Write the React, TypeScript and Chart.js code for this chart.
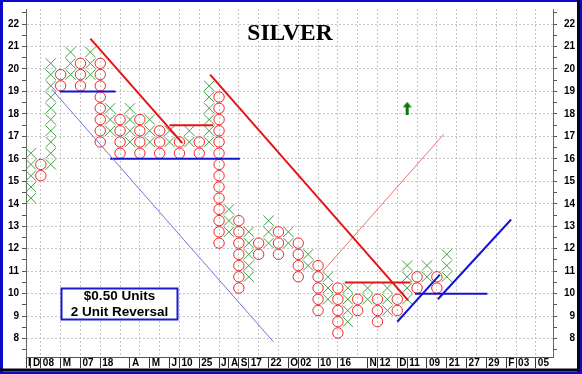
import React, { useEffect, useRef } from 'react';
import { Chart, registerables } from 'chart.js';

Chart.register(...registerables);

// ---- Point & Figure columns (box centres, $0.50 boxes) ----
const columnTypes = 'XOXOXOXOXOXOXOXOXOXOXOXOXOXOXOXOXOXOXOXOXOX'.split('');
const columnLows = [
  14.25, 15.25, 15.75, 19.25, 19.75, 19.25, 19.75, 16.75, 17.25, 16.25,
  16.75, 16.25, 16.75, 16.25, 16.75, 16.25, 16.75, 16.25, 16.75, 12.25,
  12.75, 10.25, 10.75, 11.75, 12.25, 11.75, 12.25, 10.75, 11.25, 9.25,
  9.75, 8.25, 8.75, 9.25, 9.75, 8.75, 9.25, 9.25, 9.75, 10.25,
  10.75, 10.25, 10.75,
];
const columnHighs = [
  16.25, 15.75, 20.25, 19.75, 20.75, 20.25, 20.75, 20.25, 18.25, 17.75,
  18.25, 17.75, 17.75, 17.25, 17.25, 16.75, 17.25, 16.75, 19.25, 18.75,
  13.75, 13.25, 12.75, 12.25, 13.25, 12.75, 12.75, 12.25, 11.75, 11.25,
  10.75, 10.25, 10.25, 9.75, 10.25, 9.75, 10.25, 9.75, 11.25, 10.75,
  11.25, 10.75, 11.75,
];

// ---- axis labels ----
const xTickCols = [-0.5, 0, 1, 3, 5, 7, 10, 12, 14, 15, 17, 19, 20, 21, 22, 24, 26, 27, 29, 31, 34, 35, 37, 38, 40, 42, 44, 46, 48, 49, 51];
const xTickLabels = ['I', 'D', '08', 'M', '07', '18', 'A', 'M', 'J', '10', '25', 'J', 'A', 'S', '17', '22', 'O', '02', '10', '16', 'N', '12', 'D', '11', '09', '21', '27', '29', 'F', '03', '05'];
const yTickValues = [8, 9, 10, 11, 12, 13, 14, 15, 16, 17, 18, 19, 20, 21, 22];
const gridCols = [1, 3, 5, 7, 9, 11, 13, 15, 17, 19, 21, 23, 25, 27, 29, 31, 33, 35, 37, 39, 41, 43, 45, 47, 49, 51];

// ---- trend lines (column, price) ----
const supportThin = [[2.1, 19.1], [24.5, 7.85]];
const resistance1 = [[6, 21.35], [15.3, 16.7]];
const resistance2 = [[18.1, 19.75], [38.1, 9.7]];
const redThinUp = [[29.5, 11], [41.7, 17.1]];
const blueUp1 = [[37, 8.75], [41.3, 10.85]];
const blueUp2 = [[41.1, 9.75], [48.5, 13.3]];
const redLevel1 = [[14, 17.5], [18.4, 17.5]];
const redLevel2 = [[31.7, 10.5], [38.35, 10.5]];
const blueLevel1 = [[2.9, 19], [8.55, 19]];
const blueLevel2 = [[8, 16], [21.1, 16]];
const blueLevel3 = [[38.8, 10], [46.1, 10]];
const buySignal = [[38, 18.25]];

const X_MIN = -0.5;
const X_MAX = 52.73;
const Y_MIN = 7.18;
const Y_MAX = 22.67;

export default function App() {
  const ref = useRef<HTMLCanvasElement>(null);

  useEffect(() => {
    document.body.style.margin = '0';
    const canvas = ref.current;
    if (!canvas) return;

    const xs: { x: number; y: number }[] = [];
    const os: { x: number; y: number }[] = [];
    columnTypes.forEach((t, i) => {
      for (let v = columnLows[i]; v <= columnHighs[i] + 1e-9; v += 0.5) {
        (t === 'X' ? xs : os).push({ x: i, y: v });
      }
    });

    // arrow marker
    const arrow = document.createElement('canvas');
    arrow.width = 9;
    arrow.height = 13;
    const actx = arrow.getContext('2d')!;
    actx.fillStyle = '#0a7a0a';
    actx.beginPath();
    actx.moveTo(4.5, 0);
    actx.lineTo(9, 5.5);
    actx.lineTo(0, 5.5);
    actx.closePath();
    actx.fill();
    actx.fillRect(3, 5, 3, 8);

    const line = (pts: number[][], color: string, width: number) => ({
      data: pts.map(([x, y]) => ({ x, y })),
      showLine: true,
      borderColor: color,
      backgroundColor: color,
      borderWidth: width,
      pointRadius: 0,
      pointHoverRadius: 0,
      fill: false,
      tension: 0,
      order: 0,
    });

    const labelFont = { family: '"Liberation Sans", Arial, sans-serif', size: 10, weight: 'bold' as const };
    const yTicksAll: number[] = [];
    for (let v = 7.5; v <= 22.5; v += 0.5) yTicksAll.push(v);

    const decor = {
      id: 'decor',
      beforeDraw(chart: any) {
        const c = chart.ctx;
        c.save();
        c.fillStyle = '#ffffff';
        c.fillRect(0, 0, chart.width, chart.height);
        c.restore();
      },
      afterDraw(chart: any) {
        const c = chart.ctx;
        c.save();
        // title
        c.fillStyle = '#000';
        c.font = 'bold 23.5px "Liberation Serif", "Times New Roman", serif';
        c.textAlign = 'center';
        c.textBaseline = 'alphabetic';
        c.fillText('SILVER', 290, 39.5);
        // info box
        c.fillStyle = '#fff';
        c.fillRect(61, 288, 117, 32);
        c.strokeStyle = '#1a1acc';
        c.lineWidth = 2;
        c.strokeRect(61.5, 288.5, 116, 31);
        c.fillStyle = '#000';
        c.font = 'bold 13.5px "Liberation Sans", Arial, sans-serif';
        c.textBaseline = 'middle';
        c.fillText('$0.50 Units', 119.5, 296.5);
        c.fillText('2 Unit Reversal', 119.5, 312.5);
        // frame
        c.fillStyle = '#0a0ac8';
        c.fillRect(0, 0, 582, 2);
        c.fillRect(0, 0, 3, 374);
        c.fillStyle = '#050510';
        c.fillRect(577, 0, 3, 374);
        c.fillRect(0, 368.5, 582, 3);
        c.fillStyle = '#0a0ac8';
        c.fillRect(580, 0, 2, 374);
        c.fillRect(0, 371.5, 582, 3);
        c.restore();
      },
    };

    const chart = new Chart(canvas, {
      type: 'scatter',
      data: {
        datasets: [
          line(resistance1, '#e41414', 2),
          line(resistance2, '#e41414', 2),
          line(redLevel1, '#e41414', 2),
          line(redLevel2, '#e41414', 2),
          line(redThinUp, '#f07070', 1),
          line(supportThin, '#7474dc', 1),
          line(blueLevel1, '#1414cc', 2),
          line(blueLevel2, '#1414cc', 2),
          line(blueLevel3, '#1414cc', 2),
          line(blueUp1, '#1414d4', 2),
          line(blueUp2, '#1414d4', 2),
          {
            data: buySignal.map(([x, y]) => ({ x, y })),
            pointStyle: arrow as any,
            pointRadius: 6,
            order: 0,
          },
          {
            data: xs,
            pointStyle: 'crossRot',
            pointRadius: 7.3,
            pointHoverRadius: 7.3,
            borderColor: '#44a044',
            backgroundColor: 'rgba(0,0,0,0)',
            borderWidth: 1,
            order: 1,
          },
          {
            data: os,
            pointStyle: 'circle',
            pointRadius: 5.2,
            pointHoverRadius: 5.2,
            borderColor: '#f02828',
            backgroundColor: 'rgba(0,0,0,0)',
            borderWidth: 1,
            order: 1,
          },
        ] as any,
      },
      options: {
        responsive: false,
        animation: false,
        events: [],
        layout: { padding: { top: 3, right: 7, bottom: 0, left: 0 } },
        plugins: { legend: { display: false }, tooltip: { enabled: false }, title: { display: false } },
        scales: {
          x: {
            type: 'linear',
            position: 'bottom',
            min: X_MIN,
            max: X_MAX,
            afterBuildTicks: (s: any) => { s.ticks = xTickCols.map((v) => ({ value: v })); },
            afterFit: (s: any) => { s.height = 17; },
            ticks: {
              autoSkip: false,
              maxRotation: 0,
              minRotation: 0,
              align: 'start',
              padding: -10.5,
              color: '#000',
              font: labelFont,
              callback: (_v: any, i: number) => '\u2009' + xTickLabels[i],
            },
            grid: { drawOnChartArea: false, drawTicks: true, tickLength: 11, color: '#333', tickColor: '#333' },
            border: { display: true, color: '#555', width: 1 },
          },
          xg: {
            axis: 'x',
            type: 'linear',
            position: 'top',
            min: X_MIN,
            max: X_MAX,
            afterBuildTicks: (s: any) => { s.ticks = gridCols.map((v) => ({ value: v })); },
            afterFit: (s: any) => { s.height = 0; },
            ticks: { display: false },
            grid: { drawTicks: false, color: '#c4c4c4', lineWidth: 1, borderDash: [2, 2] } as any,
            border: { display: false, dash: [2, 2] },
          },
          y: {
            type: 'linear',
            position: 'left',
            min: Y_MIN,
            max: Y_MAX,
            afterBuildTicks: (s: any) => { s.ticks = yTicksAll.map((v) => ({ value: v })); },
            afterFit: (s: any) => { s.width = 26; },
            ticks: {
              autoSkip: false,
              padding: 3,
              color: '#000',
              font: labelFont,
              callback: (v: any) => (yTickValues.includes(v) ? String(v) : ''),
            },
            grid: {
              drawTicks: true,
              tickLength: 4,
              color: (c: any) => (yTickValues.includes(c.tick?.value) ? '#c4c4c4' : 'rgba(0,0,0,0)'),
              tickColor: '#555',
              tickBorderDash: [],
              borderDash: [2, 2],
            } as any,
            border: { display: true, color: '#666', dash: [2, 2] },
          },
          y2: {
            axis: 'y',
            type: 'linear',
            position: 'right',
            min: Y_MIN,
            max: Y_MAX,
            afterBuildTicks: (s: any) => { s.ticks = yTicksAll.map((v) => ({ value: v })); },
            afterFit: (s: any) => { s.width = 22; },
            ticks: {
              autoSkip: false,
              crossAlign: 'far',
              padding: 3,
              color: '#000',
              font: labelFont,
              callback: (v: any) => (yTickValues.includes(v) ? String(v) : ''),
            },
            grid: { drawOnChartArea: false, drawTicks: true, tickLength: 4, color: '#555', tickColor: '#555' },
            border: { display: true, color: '#666' },
          },
        } as any,
      },
      plugins: [decor],
    });

    return () => chart.destroy();
  }, []);

  return (
    <div style={{ position: 'absolute', left: 0, top: 0, width: 582, height: 374 }}>
      <canvas ref={ref} width={582} height={374} style={{ display: 'block' }} />
    </div>
  );
}
